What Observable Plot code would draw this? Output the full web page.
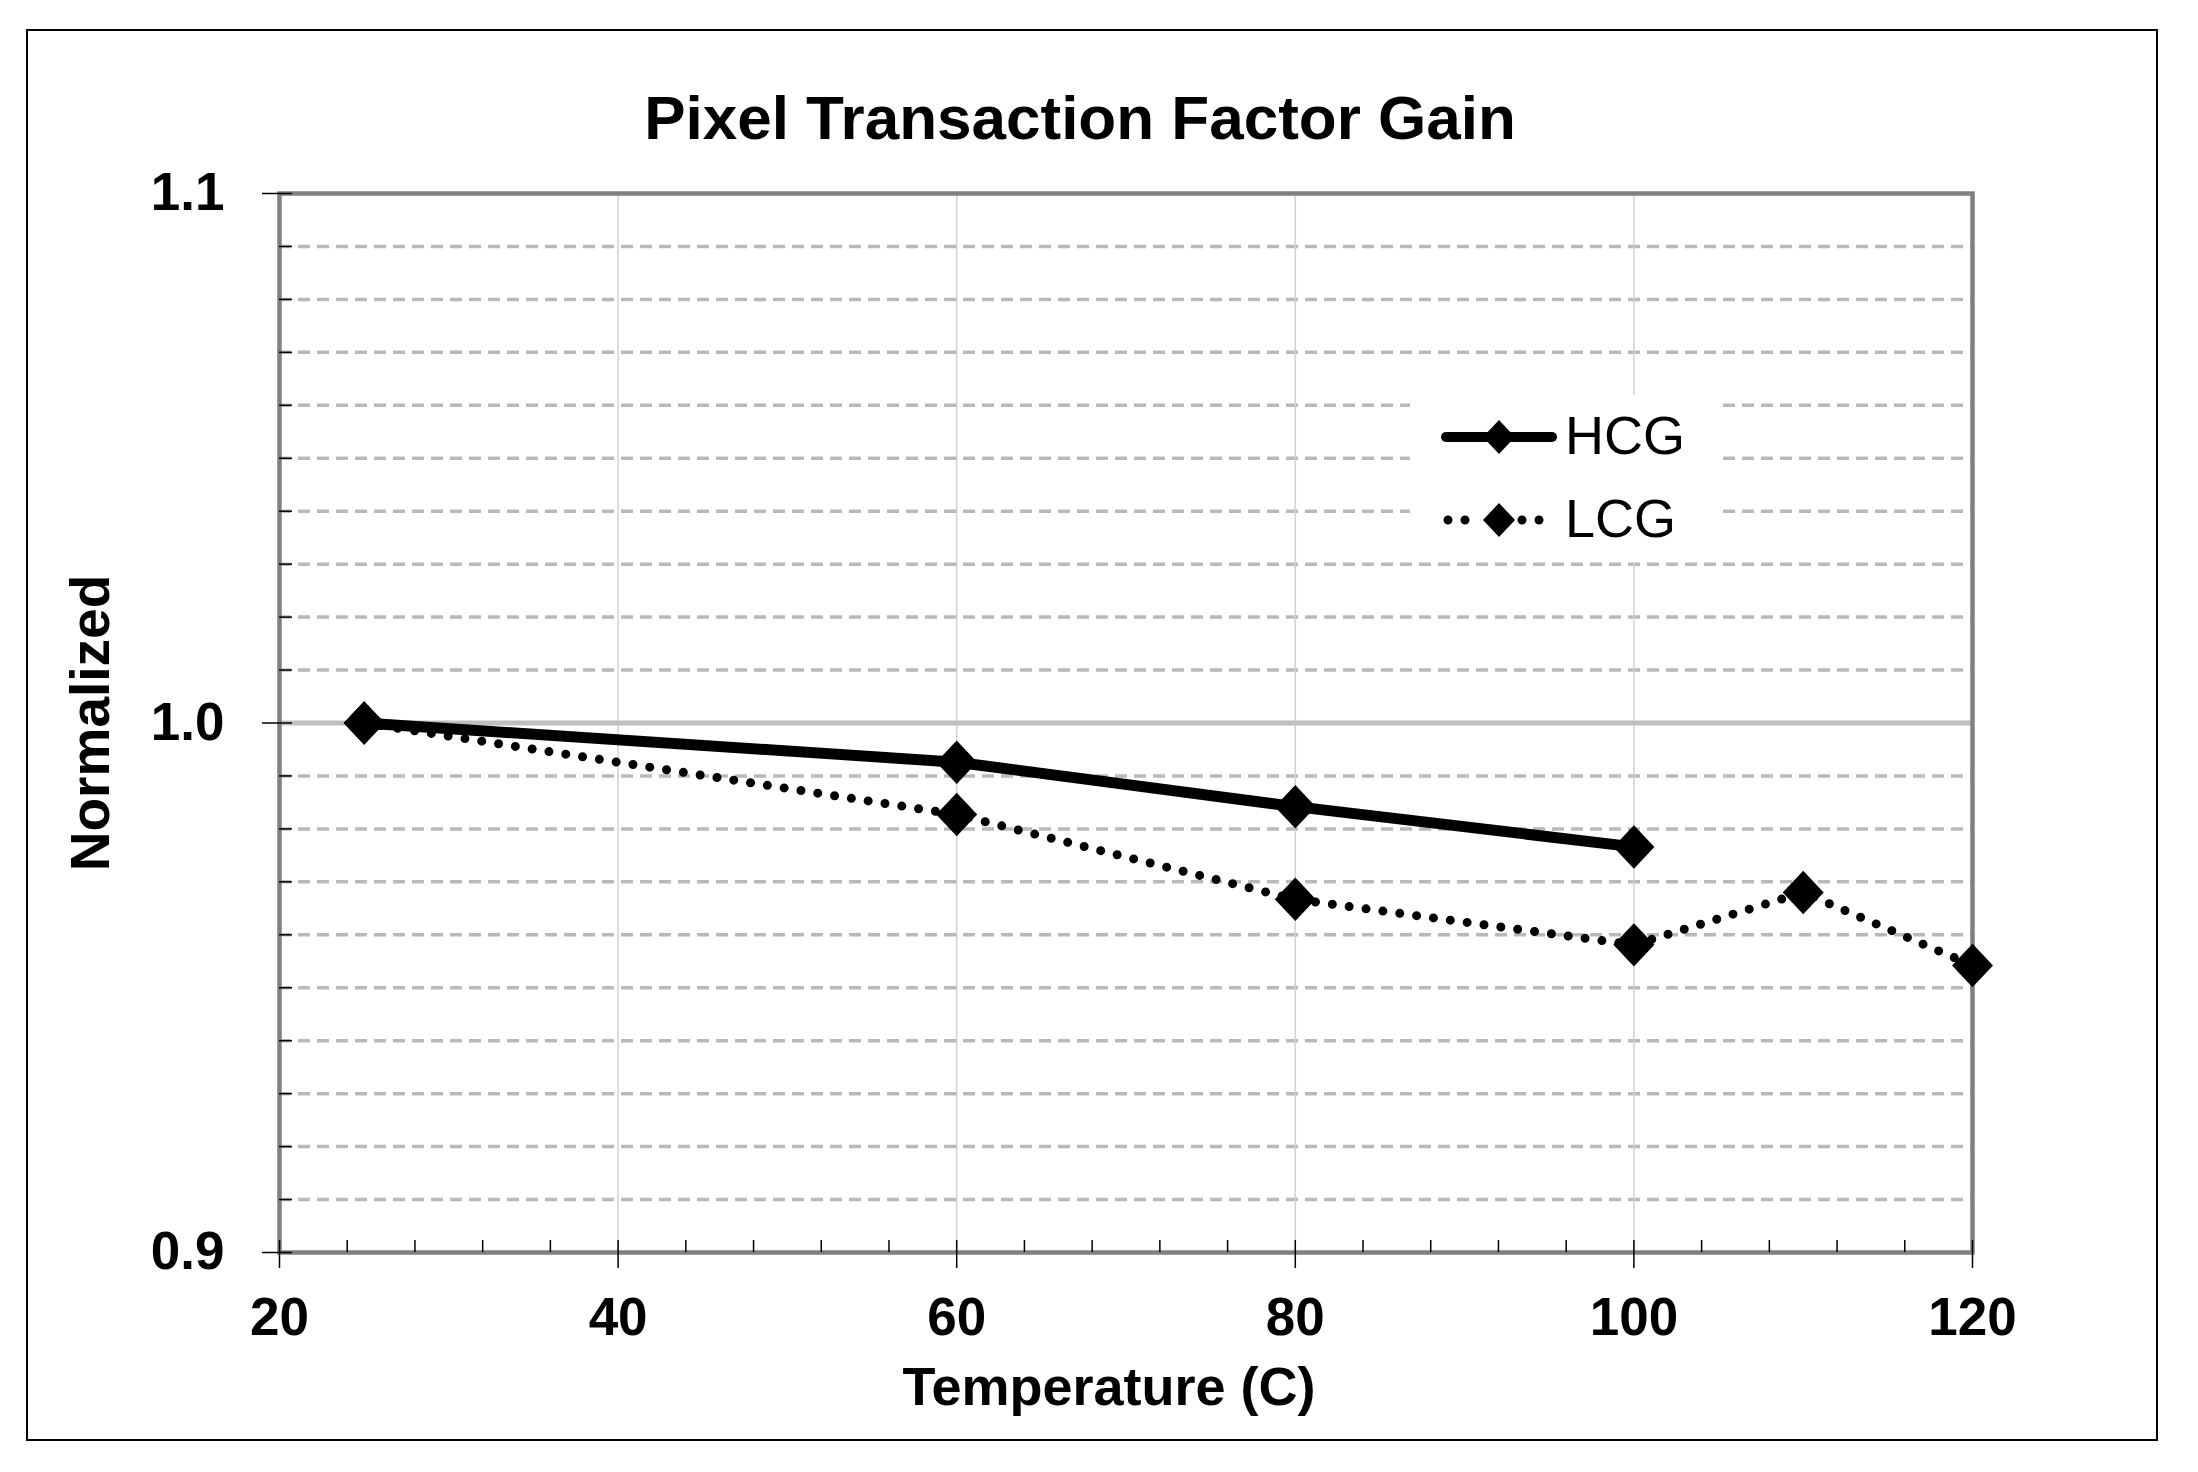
<!DOCTYPE html>
<html>
<head>
<meta charset="utf-8">
<script src="https://cdn.jsdelivr.net/npm/d3@7"></script>
<script src="https://cdn.jsdelivr.net/npm/@observablehq/plot@0.6"></script>
<style>
  html, body { margin: 0; padding: 0; background: #fff; }
  #page { position: relative; width: 2198px; height: 1472px; font-family: "Liberation Sans", Arial, sans-serif; }
  #title { height: 120px; box-sizing: border-box; padding-top: 87px; width: 2160px; text-align: center;
           font-size: 62px; line-height: 62px; font-weight: bold; color: #000; white-space: nowrap; overflow: visible; }
  #border { position: absolute; left: 26px; top: 29px; width: 2132px; height: 1412px; border: 2px solid #000;
            box-sizing: border-box; pointer-events: none; z-index: 3; }
  #legend { position: absolute; left: 1410px; top: 395px; width: 310px; height: 167px; background: #fff; z-index: 2; }
  #chart svg { display: block; }
</style>
</head>
<body>
<div id="page">
  <div id="title">Pixel Transaction Factor Gain</div>
  <div id="chart"></div>
  <div id="legend"></div>
  <div id="border"></div>
</div>
<script>
// ---- data ----
const hcgTemps = [25, 60, 80, 100];
const hcgValues = [1.0, 0.9926, 0.9842, 0.9766];
const lcgTemps = [25, 60, 80, 100, 110, 120];
const lcgValues = [1.0, 0.9827, 0.9667, 0.9581, 0.968, 0.9542];
const seriesNames = ["HCG", "LCG"];

// ---- axes / ticks ----
const xMajorTicks = [20, 40, 60, 80, 100, 120];
const xMinorTicks = d3.range(20, 121, 4);
const xGridLines = [40, 60, 80, 100];
const yMajorTicks = [0.9, 1.0, 1.1];
const yMinorTicks = d3.range(90, 111).map(d => d / 100);
const yDashedGrid = d3.range(91, 110).filter(d => d !== 100).map(d => d / 100);
const yMajorGrid = [1.0];
const xLabel = "Temperature (C)";
const yLabel = "Normalized";

const hcgData = hcgTemps.map((t, i) => ({t, v: hcgValues[i], s: seriesNames[0]}));
const lcgData = lcgTemps.map((t, i) => ({t, v: lcgValues[i], s: seriesNames[1]}));

const diamond = {
  draw(ctx, size) {
    const r = Math.sqrt(size / Math.PI);
    const h = r * 1.06;
    ctx.moveTo(0, -h); ctx.lineTo(r, 0); ctx.lineTo(0, h); ctx.lineTo(-r, 0); ctx.closePath();
  }
};

const TOP = 120;               // svg starts below the title block
const W = 2198, H = 1472 - TOP;
const mL = 279, mR = 2198 - 1972, mT = 193 - TOP, mB = 1472 - 1252;
const plotW = W - mL - mR, plotH = H - mT - mB;
const FONT = '"Liberation Sans", Arial, sans-serif';

const chart = Plot.plot({
  width: W, height: H,
  marginLeft: mL, marginRight: mR, marginTop: mT, marginBottom: mB,
  x: {domain: [20, 120]},
  y: {domain: [0.9, 1.1]},
  style: {fontFamily: FONT, background: "#fff", color: "#000"},
  marks: [
    Plot.ruleY(yDashedGrid, {stroke: "#b9b9b9", strokeWidth: 3.5, strokeDasharray: "12,7"}),
    Plot.ruleX(xGridLines, {stroke: "#d2d2d2", strokeWidth: 1.5}),
    Plot.ruleY(yMajorGrid, {stroke: "#bfbfbf", strokeWidth: 5}),
    Plot.frame({stroke: "#808080", strokeWidth: 4.5}),
    Plot.tickX(xMinorTicks, {x: d => d, insetTop: plotH - 12, stroke: "#000", strokeWidth: 1.5}),
    Plot.tickY(yMinorTicks, {y: d => d, insetRight: plotW - 13, stroke: "#000", strokeWidth: 1.5}),
    Plot.axisX(xMajorTicks, {tickSize: 16, tickPadding: 29, fontSize: 53, fontWeight: "bold",
      label: null, stroke: "#000", strokeWidth: 1.5, tickFormat: d => String(d)}),
    Plot.axisY(yMajorTicks, {tickSize: 17, tickPadding: 38, fontSize: 53, fontWeight: "bold",
      label: null, stroke: "#000", strokeWidth: 1.5, tickFormat: d => d.toFixed(1)}),
    Plot.text([xLabel], {frameAnchor: "bottom", text: d => d, textAnchor: "middle", lineAnchor: "middle",
      dx: -17, dy: 135, fontSize: 54, fontWeight: "bold", fill: "#000"}),
    Plot.text([yLabel], {frameAnchor: "left", text: d => d, textAnchor: "middle", lineAnchor: "middle",
      rotate: -90, dx: -188, fontSize: 55, fontWeight: "bold", fill: "#000"}),
    Plot.line(lcgData, {x: "t", y: "v", stroke: "#000", strokeWidth: 9,
      strokeDasharray: "0,17", strokeLinecap: "round"}),
    Plot.line(hcgData, {x: "t", y: "v", stroke: "#000", strokeWidth: 11, strokeLinejoin: "round"}),
    Plot.dot(lcgData, {x: "t", y: "v", symbol: diamond, r: 20.5, fill: "#000", stroke: "none"}),
    Plot.dot(hcgData, {x: "t", y: "v", symbol: diamond, r: 20.5, fill: "#000", stroke: "none"})
  ]
});
document.getElementById("chart").appendChild(chart);

// ---- legend ----
const ns = "http://www.w3.org/2000/svg";
const lg = document.createElementNS(ns, "svg");
lg.setAttribute("width", 310); lg.setAttribute("height", 167);
function el(name, attrs, parent) {
  const e = document.createElementNS(ns, name);
  for (const k in attrs) e.setAttribute(k, attrs[k]);
  (parent || lg).appendChild(e);
  return e;
}
function legendDiamond(cx, cy) {
  el("path", {d: `M${cx},${cy - 17}L${cx + 16},${cy}L${cx},${cy + 17}L${cx - 16},${cy}Z`, fill: "#000"});
}
// HCG
el("line", {x1: 36, x2: 142, y1: 42, y2: 42, stroke: "#000", "stroke-width": 10, "stroke-linecap": "round"});
legendDiamond(89, 42);
const t1 = el("text", {x: 155, y: 59, "font-size": 54, "font-family": FONT, fill: "#000"});
t1.textContent = seriesNames[0];
// LCG
el("line", {x1: 38, x2: 56, y1: 125, y2: 125, stroke: "#000", "stroke-width": 9, "stroke-linecap": "round", "stroke-dasharray": "0,17"});
el("line", {x1: 112, x2: 130, y1: 125, y2: 125, stroke: "#000", "stroke-width": 9, "stroke-linecap": "round", "stroke-dasharray": "0,17"});
legendDiamond(89, 125);
const t2 = el("text", {x: 155, y: 142, "font-size": 54, "font-family": FONT, fill: "#000"});
t2.textContent = seriesNames[1];
document.getElementById("legend").appendChild(lg);
</script>
</body>
</html>
